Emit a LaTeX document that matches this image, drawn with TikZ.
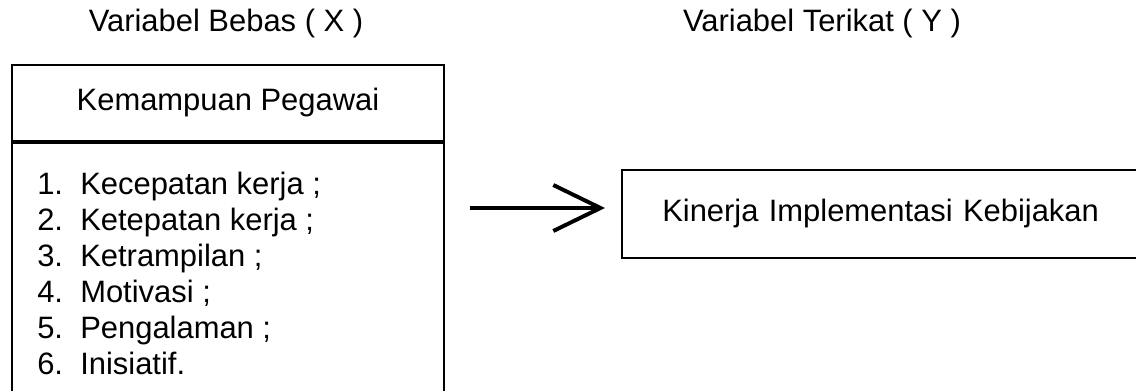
\documentclass[tikz,border=0pt]{standalone}
\usepackage{fontspec}
\setmainfont{Liberation Sans}
\usetikzlibrary{arrows.meta,positioning}

\tikzset{
  kotak/.style={draw=black, line width=1.4pt, rectangle, inner sep=0pt},
  garis/.style={draw=black, line width=1.4pt},
  panah/.style={-{Straight Barb[length=1.18cm, width=1.15cm, line width=2.8pt]}, line width=2.8pt},
}

\begin{document}
\begin{tikzpicture}[font=\fontsize{22}{26}\selectfont]
    \useasboundingbox (0,0) rectangle (28.4,9.75);
    \clip (0,0) rectangle (28.4,9.75);
    % judul variabel
    \node (judulx) at (5.65,9.175) {Variabel Bebas ( X )};
    \node (juduly) at (20.55,9.175) {Variabel Terikat ( Y )};
    % variabel bebas
    \node[kotak, minimum width=10.8cm, minimum height=1.9cm, anchor=north west] (kemampuan) at (0.275,8.15) {Kemampuan Pegawai};
    \node[kotak, minimum width=10.8cm, minimum height=6.85cm, anchor=north] (indikator) at (kemampuan.south) {};
    \foreach \n/\teks [count=\i] in {1/Kecepatan kerja ;, 2/Ketepatan kerja ;, 3/Ketrampilan ;, 4/Motivasi ;, 5/Pengalaman ;, 6/Inisiatif.}{
        \node[anchor=base west, inner sep=0pt] (no\i) at (0.925,5.795-0.9*\i) {\n.};
        \node[anchor=base west, inner sep=0pt] (item\i) at (2.0,5.795-0.9*\i) {\teks};
    }
    % variabel terikat, sisi kanan terpotong
    \node[anchor=west, minimum height=2.2cm, text width=14cm, inner sep=0pt, inner xsep=1cm, align=left] (kinerja) at (15.55,4.4) {Kinerja Implementasi Kebijakan};
    \draw[garis] ([xshift=1cm]kinerja.north west -| 28.4,0) -- (kinerja.north west) -- (kinerja.south west) -- ([xshift=1cm]kinerja.south west -| 28.4,0);
    \coordinate (awal) at (11.75,4.55);
    \draw[panah, shorten >=0.425cm] (awal) -- (awal -| kinerja.west);
\end{tikzpicture}
\end{document}
